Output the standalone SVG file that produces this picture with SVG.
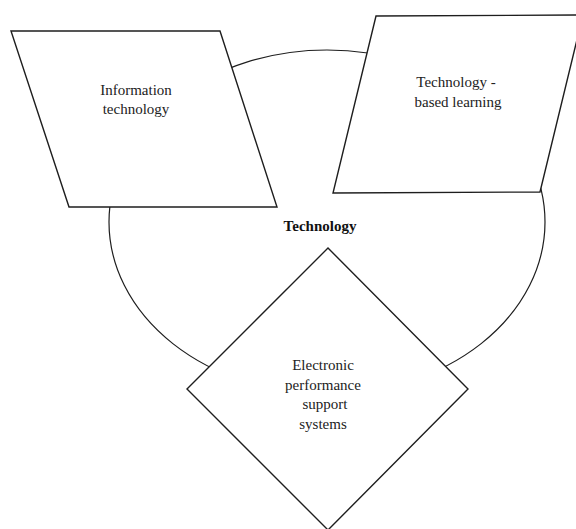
<svg xmlns="http://www.w3.org/2000/svg" width="576" height="529" viewBox="0 0 576 529">
<style>
.shape{fill:#fff;stroke:#1e1e1e;stroke-width:1.4;stroke-linejoin:miter}
.ring{fill:none;stroke:#1e1e1e;stroke-width:1.2}
.lbl{font-family:"Liberation Serif","Times New Roman",serif;font-size:15px;fill:#222;text-anchor:middle}
.title{font-family:"Liberation Serif","Times New Roman",serif;font-size:15px;font-weight:bold;fill:#111;text-anchor:middle}
</style>
<rect width="576" height="529" fill="#fff"/>
<g id="technology">
<ellipse class="ring" cx="327" cy="222" rx="218" ry="172"/>
<text class="title" x="320" y="231">Technology</text>
</g>
<g id="connectors"></g>
<g id="information-technology">
<polygon class="shape" points="11,31 220,31 277,207 69,207"/>
<text class="lbl" x="136" y="95">Information</text>
<text class="lbl" x="136" y="114">technology</text>
</g>
<g id="technology-based-learning">
<polygon class="shape" points="376,16 583,15 540,192 333,193"/>
<text class="lbl" x="456" y="87">Technology -</text>
<text class="lbl" x="458" y="107">based learning</text>
</g>
<g id="epss">
<polygon class="shape" points="328,248 468,389 328,530 187,389"/>
<text class="lbl" x="323" y="370">Electronic</text>
<text class="lbl" x="323" y="390">performance</text>
<text class="lbl" x="325" y="409">support</text>
<text class="lbl" x="323" y="429">systems</text>
</g>
</svg>
